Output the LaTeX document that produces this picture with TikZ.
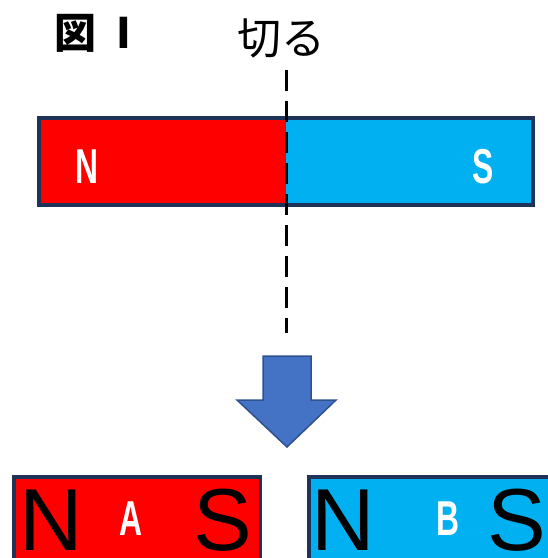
\documentclass[tikz,border=0pt]{standalone}
\usepackage{fontspec}
\newfontfamily\jp{Noto Sans CJK JP}
\newfontfamily\lib{Liberation Sans}
\definecolor{magred}{RGB}{255,0,0}
\definecolor{magblue}{RGB}{0,176,240}
\definecolor{navy}{RGB}{31,50,88}
\definecolor{arrowfill}{RGB}{68,114,196}
\definecolor{arrowline}{RGB}{47,82,143}
\tikzset{
  magborder/.style={draw=navy, line width=4pt},
  whitelabel/.style={text=white, inner sep=0pt, anchor=base, font=\lib\bfseries\fontsize{49}{49}\selectfont, xscale=0.65},
  biglabel/.style={text=black, inner sep=0pt, anchor=base, font=\lib\fontsize{88}{88}\selectfont},
  cutline/.style={line width=3pt, dash pattern=on 21pt off 10pt}
}
\begin{document}
\begin{tikzpicture}[x=1pt,y=-1pt]
\clip (0,0) rectangle (548,558);
\fill[white] (0,0) rectangle (548,558);
% titles
\node[inner sep=0pt, font=\jp\bfseries\fontsize{42}{42}\selectfont] (title) at (75,33) {図};
\node[inner sep=0pt, font=\jp\bfseries\fontsize{42}{42}\selectfont] (titlenum) at (124,33) {I};
\node[inner sep=0pt, font=\jp\fontsize{44}{44}\selectfont] (cut) at (281,38) {切る};
% top magnet
\fill[magred] (39,118) rectangle (286,205);
\fill[magblue] (286,118) rectangle (533,205);
\draw[magborder] (39,118) rectangle (533,205);
\node[whitelabel] (topN) at (87,183) {N};
\node[whitelabel] (topS) at (483,183) {S};
% cut line
\coordinate (cutTop) at (286,70);
\coordinate (cutBot) at (286,333);
\draw[cutline] (cutTop) -- (cutBot);
% arrow
\filldraw[fill=arrowfill, draw=arrowline, line width=1.5pt, line join=miter]
  (263,356) -- (311,356) -- (311,400) -- (336,400) -- (287,447) -- (237,400) -- (263,400) -- cycle;
% bottom magnets
\filldraw[fill=magred, draw=navy, line width=3.5pt] (13.75,476.75) rectangle (260.25,600);
\filldraw[fill=magblue, draw=navy, line width=3.5pt] (308.75,476.75) rectangle (620,600);
\node[biglabel] (aN) at (51,550) {N};
\node[whitelabel] (aA) at (131,535) {A};
\node[biglabel] (aS) at (223,550) {S};
\node[biglabel] (bN) at (343,550) {N};
\node[whitelabel] (bB) at (448,535) {B};
\node[biglabel] (bS) at (517,550) {S};
\end{tikzpicture}
\end{document}
